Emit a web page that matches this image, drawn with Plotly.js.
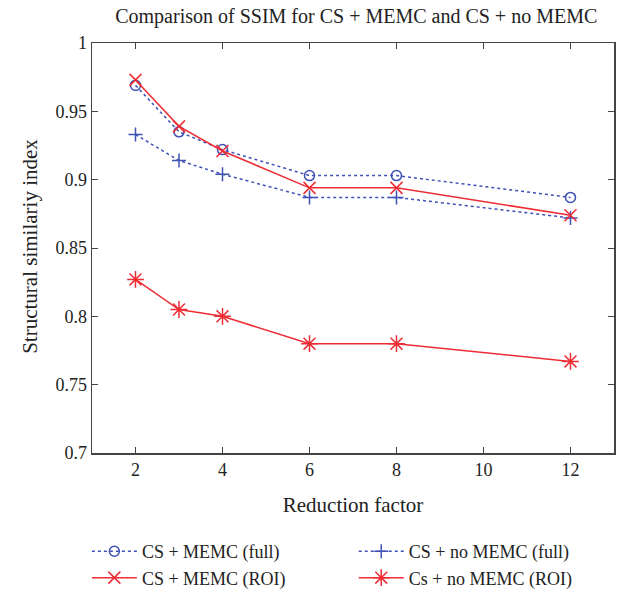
<!DOCTYPE html>
<html>
<head>
<meta charset="utf-8">
<script src="https://cdn.plot.ly/plotly-3.0.1.min.js"></script>
<style>html,body{margin:0;padding:0;background:#fff;}#chart{width:625px;height:589px;}</style>
</head>
<body>
<div id="chart"></div>
<script>
const reductionFactor = [2, 3, 4, 6, 8, 12];
const memcFull = [0.969, 0.935, 0.922, 0.903, 0.903, 0.887];
const noMemcFull = [0.933, 0.914, 0.904, 0.887, 0.887, 0.872];
const memcROI = [0.973, 0.939, 0.921, 0.894, 0.894, 0.874];
const noMemcROI = [0.827, 0.805, 0.800, 0.780, 0.780, 0.767];
const xTicks = [2, 4, 6, 8, 10, 12];
const yTicks = [0.7, 0.75, 0.8, 0.85, 0.9, 0.95, 1];
const yTickText = ['0.7', '0.75', '0.8', '0.85', '0.9', '0.95', '1'];

const blue = '#3f51b5';
const red = '#ee2c34';
const fontFam = '"Liberation Serif", "DejaVu Serif", serif';

const traces = [
  {x: reductionFactor, y: memcFull, name: 'CS + MEMC (full)', mode: 'lines+markers', legend: 'legend',
   line: {color: blue, dash: 'dot', width: 1.5},
   marker: {symbol: 'circle-open', size: 10, color: blue, line: {width: 1.5, color: blue}}},
  {x: reductionFactor, y: noMemcFull, name: 'CS + no MEMC (full)', mode: 'lines+markers', legend: 'legend2',
   line: {color: blue, dash: 'dot', width: 1.5},
   marker: {symbol: 'cross-thin-open', size: 10, color: blue, line: {width: 1.5, color: blue}}},
  {x: reductionFactor, y: memcROI, name: 'CS + MEMC (ROI)', mode: 'lines+markers', legend: 'legend',
   line: {color: red, width: 1.5},
   marker: {symbol: 'x-thin-open', size: 12, color: red, line: {width: 1.5, color: red}}},
  {x: reductionFactor, y: noMemcROI, name: 'Cs + no MEMC (ROI)', mode: 'lines+markers', legend: 'legend2',
   line: {color: red, width: 1.5},
   marker: {symbol: 'asterisk-open', size: 14, color: red, line: {width: 1.5, color: red}}}
];

const axisCommon = {
  showline: true, mirror: 'ticks', linecolor: '#444', linewidth: 1.5,
  ticks: 'inside', ticklen: 6, tickcolor: '#444', tickwidth: 1,
  showgrid: false, zeroline: false,
  tickfont: {family: fontFam, size: 18, color: '#222'}
};

const legendCommon = {
  orientation: 'v', xref: 'container', yref: 'container', xanchor: 'left', y: 0.095, yanchor: 'top',
  itemwidth: 45, font: {family: fontFam, size: 18, color: '#222'}, bgcolor: 'rgba(0,0,0,0)',
  tracegroupgap: 0, traceorder: 'normal'
};

const layout = {
  width: 625, height: 589,
  margin: {l: 92, r: 11, t: 43, b: 136, autoexpand: false},
  paper_bgcolor: '#fff', plot_bgcolor: '#fff',
  font: {family: fontFam, color: '#222'},
  title: {text: 'Comparison of SSIM for CS + MEMC and CS + no MEMC',
    font: {family: fontFam, size: 20, color: '#222'}, x: 0.57, xanchor: 'center', y: 0.985, yanchor: 'top'},
  xaxis: Object.assign({}, axisCommon, {
    range: [1, 13], tickvals: xTicks, ticktext: xTicks.map(String),
    title: {text: 'Reduction factor', font: {family: fontFam, size: 21, color: '#222'}, standoff: 18}
  }),
  yaxis: Object.assign({}, axisCommon, {
    range: [0.7, 1], tickvals: yTicks, ticktext: yTickText
  }),
  annotations: [{
    text: 'Structural similariy index', xref: 'paper', yref: 'paper', x: -0.119, y: 0.505,
    xanchor: 'center', yanchor: 'middle', textangle: -90, showarrow: false,
    font: {family: fontFam, size: 21, color: '#222'}
  }],
  showlegend: true,
  legend: Object.assign({}, legendCommon, {x: 0.139}),
  legend2: Object.assign({}, legendCommon, {x: 0.566})
};

Plotly.newPlot('chart', traces, layout, {displayModeBar: false, staticPlot: true});
</script>
</body>
</html>
